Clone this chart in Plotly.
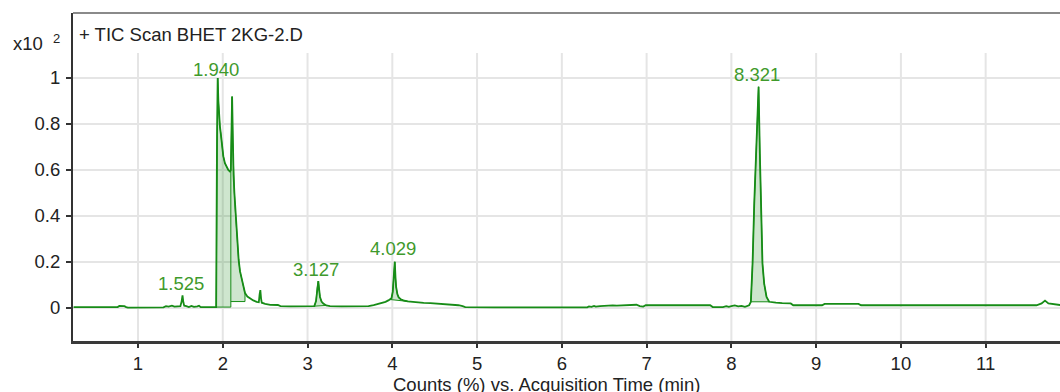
import plotly.graph_objects as go

# ---------------- data ----------------
time_min = [
    0.24, 0.60, 0.76, 0.78, 0.84, 0.86, 0.88, 1.30, 1.33, 1.36, 1.40, 1.43, 1.47, 1.50,
    1.515, 1.525, 1.535, 1.545, 1.57, 1.60, 1.63, 1.66, 1.70, 1.72, 1.74, 1.80, 1.90,
    1.922, 1.932, 1.940, 1.948, 1.956, 1.966, 1.976, 1.990, 2.006, 2.025, 2.046, 2.065,
    2.085, 2.095, 2.110, 2.118, 2.127, 2.137, 2.147, 2.157, 2.167, 2.177, 2.187, 2.203,
    2.226, 2.243, 2.262, 2.29, 2.32, 2.36, 2.40, 2.425, 2.435, 2.443, 2.452, 2.46, 2.50,
    2.56, 2.65, 2.68, 2.80, 3.00, 3.08, 3.10, 3.115, 3.127, 3.137, 3.147, 3.165, 3.186,
    3.22, 3.265, 3.40, 3.60, 3.72, 3.78, 3.855, 3.92, 3.953, 3.97, 3.99, 4.005, 4.018,
    4.029, 4.038, 4.045, 4.06, 4.075, 4.10, 4.13, 4.18, 4.20, 4.25, 4.30, 4.37, 4.45,
    4.52, 4.60, 4.70, 4.78, 4.83, 4.86, 5.20, 5.60, 6.00, 6.30, 6.32, 6.35, 6.38, 6.40,
    6.45, 6.50, 6.55, 6.60, 6.65, 6.70, 6.80, 6.88, 6.92, 6.96, 6.99, 7.20, 7.50, 7.75,
    7.78, 7.90, 7.94, 7.97, 8.00, 8.04, 8.08, 8.12, 8.16, 8.21, 8.23, 8.25, 8.27, 8.29,
    8.305, 8.321, 8.336, 8.352, 8.367, 8.387, 8.415, 8.446, 8.48, 8.525, 8.60, 8.70,
    8.73, 8.90, 9.07, 9.10, 9.30, 9.50, 9.53, 10.00, 10.50, 11.00, 11.60, 11.66, 11.70,
    11.74, 11.78, 11.82, 11.90,
]
counts_x100 = [
    0.004, 0.004, 0.004, 0.009, 0.008, 0.004, 0.002, 0.003, 0.008, 0.006, 0.010, 0.006,
    0.007, 0.008, 0.030, 0.055, 0.025, 0.010, 0.008, 0.004, 0.009, 0.005, 0.007, 0.010,
    0.004, 0.003, 0.003, 0.004, 0.75, 1.000, 0.90, 0.82, 0.79, 0.76, 0.71, 0.66, 0.63,
    0.613, 0.60, 0.593, 0.60, 0.919, 0.72, 0.58, 0.50, 0.43, 0.36, 0.30, 0.25, 0.21,
    0.16, 0.12, 0.09, 0.065, 0.05, 0.042, 0.033, 0.027, 0.025, 0.06, 0.078, 0.04, 0.023,
    0.018, 0.014, 0.013, 0.008, 0.007, 0.007, 0.008, 0.03, 0.09, 0.117, 0.08, 0.048,
    0.028, 0.019, 0.011, 0.008, 0.007, 0.007, 0.008, 0.013, 0.019, 0.027, 0.033, 0.037,
    0.042, 0.07, 0.14, 0.201, 0.13, 0.092, 0.06, 0.046, 0.038, 0.033, 0.029, 0.028,
    0.026, 0.024, 0.022, 0.021, 0.019, 0.019, 0.015, 0.012, 0.008, 0.004, 0.003, 0.003,
    0.003, 0.003, 0.007, 0.005, 0.009, 0.006, 0.008, 0.010, 0.009, 0.011, 0.010, 0.011,
    0.012, 0.014, 0.008, 0.006, 0.012, 0.012, 0.012, 0.012, 0.004, 0.004, 0.008, 0.005,
    0.008, 0.011, 0.007, 0.009, 0.005, 0.012, 0.027, 0.193, 0.454, 0.672, 0.86, 0.962,
    0.672, 0.381, 0.193, 0.106, 0.048, 0.027, 0.024, 0.023, 0.021, 0.020, 0.012, 0.012,
    0.012, 0.018, 0.018, 0.018, 0.012, 0.012, 0.012, 0.012, 0.012, 0.020, 0.032, 0.020,
    0.018, 0.014, 0.012,
]

# integrated peak windows (start, end) and baseline heights at each end
int_start = [1.922, 2.095, 3.08, 3.97, 8.23]
int_end = [2.095, 2.262, 3.22, 4.20, 8.446]
int_base_start = [0.004, 0.028, 0.008, 0.037, 0.027]
int_base_end = [0.004, 0.028, 0.011, 0.028, 0.027]

# labelled peaks
peak_times = [1.525, 1.940, 3.127, 4.029, 8.321]

x_ticks = [1, 2, 3, 4, 5, 6, 7, 8, 9, 10, 11]
y_ticks = [0, 0.2, 0.4, 0.6, 0.8, 1]
y_tick_text = ["0", "0.2", "0.4", "0.6", "0.8", "1"]

title_text = "+ TIC Scan BHET 2KG-2.D"
x_title = "Counts (%) vs. Acquisition Time (min)"

# ---------------- styles ----------------
LINE = "#178c17"
FILL = "rgba(30,140,30,0.22)"
LABEL = "#3f9a2c"
TXT = "#222222"
GRID = "#e5e5e5"
FONT = "Liberation Sans, Arial, sans-serif"
FS = 18.5
label_yshift = [12, 9, 12, 13, 12]

fig = go.Figure()

# shaded integration areas
for s, e, bs, be in zip(int_start, int_end, int_base_start, int_base_end):
    xs = [t for t in time_min if s <= t <= e]
    ys = [v for t, v in zip(time_min, counts_x100) if s <= t <= e]
    xs = xs + [e, s]
    ys = ys + [be, bs]
    fig.add_trace(go.Scatter(x=xs, y=ys, mode="lines", fill="toself",
                             fillcolor=FILL, line=dict(color=LINE, width=1),
                             hoverinfo="skip"))

# chromatogram line
fig.add_trace(go.Scatter(x=time_min, y=counts_x100, mode="lines",
                         line=dict(color=LINE, width=1.8)))

# peak labels
for i, pt in enumerate(peak_times):
    idx = min(range(len(time_min)), key=lambda k: abs(time_min[k] - pt))
    fig.add_annotation(x=pt, y=counts_x100[idx], text=f"{pt:.3f}", showarrow=False,
                       xref="x", yref="y", xanchor="center", yanchor="middle",
                       yshift=label_yshift[i], xshift=-2,
                       font=dict(family=FONT, size=FS, color=LABEL))

# vertical grid lines (start below the title band)
for t in x_ticks:
    fig.add_shape(type="line", xref="x", yref="paper", x0=t, x1=t, y0=0, y1=0.878,
                  line=dict(color=GRID, width=2), layer="below")

# top border
fig.add_shape(type="line", xref="paper", yref="paper", x0=0, x1=1, y0=1, y1=1,
              line=dict(color="#8a8a8a", width=2))

# texts
fig.add_annotation(x=0.004, y=0.933, xref="paper", yref="paper", text=title_text,
                   showarrow=False, xanchor="left", yanchor="middle",
                   font=dict(family=FONT, size=FS, color=TXT))
fig.add_annotation(x=-0.0625, y=0.9085, xref="paper", yref="paper", text="x10",
                   showarrow=False, xanchor="left", yanchor="middle",
                   font=dict(family=FONT, size=FS, color=TXT))
fig.add_annotation(x=-0.022, y=0.922, xref="paper", yref="paper", text="2",
                   showarrow=False, xanchor="left", yanchor="middle",
                   font=dict(family=FONT, size=13, color=TXT))
fig.add_annotation(x=0.480, y=-0.134, xref="paper", yref="paper", text=x_title,
                   showarrow=False, xanchor="center", yanchor="middle",
                   font=dict(family=FONT, size=FS, color=TXT))

fig.update_layout(
    width=1060, height=392,
    margin=dict(l=73, r=0, t=13, b=51, pad=0),
    plot_bgcolor="white", paper_bgcolor="white",
    showlegend=False,
    font=dict(family=FONT, size=FS, color=TXT),
    xaxis=dict(range=[0.233, 11.877], tickmode="array", tickvals=x_ticks,
               ticks="outside", ticklen=4, tickwidth=2, tickcolor="#333333",
               showline=True, linecolor="#3a3a3a", linewidth=3,
               showgrid=False, zeroline=False, ticklabelstandoff=0),
    yaxis=dict(range=[-0.1435, 1.2826], tickmode="array", tickvals=y_ticks,
               ticktext=y_tick_text, ticks="outside", ticklen=5, tickwidth=2,
               tickcolor="#333333", showline=True, linecolor="#333333", linewidth=2,
               showgrid=True, gridcolor=GRID, gridwidth=2, zeroline=False,
               ticklabelstandoff=2),
)

# remove the default page margin so the 1060x392 figure fills the window exactly
fig.write_html("out.html",
               config={"displayModeBar": False},
               post_script="document.body.style.margin='0';document.body.style.overflow='hidden';")
